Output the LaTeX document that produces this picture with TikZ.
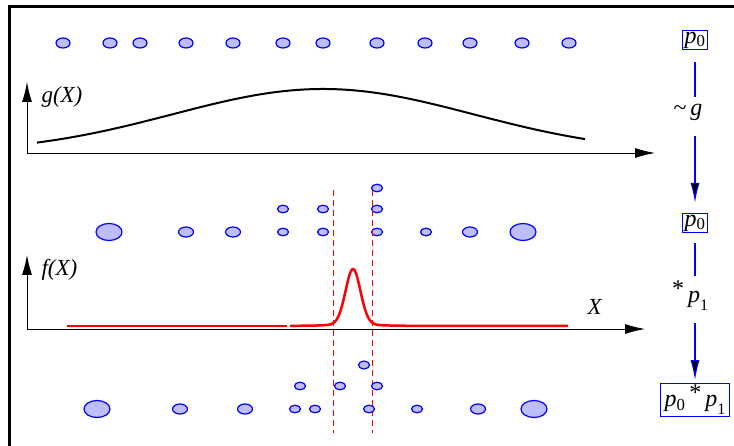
\documentclass[tikz,border=0pt]{standalone}
\usepackage{fontspec}
\setmainfont{Liberation Serif}
\usetikzlibrary{arrows.meta}
\definecolor{beadfill}{RGB}{190,190,255}
\tikzset{
  bead/.style={draw=blue,fill=beadfill,line width=1.2pt},
  sbead/.style={bead},
  mbead/.style={bead},
  bbead/.style={bead},
  axisarrow/.style={-{Latex[length=20pt,width=10pt]},line width=0.9pt},
  probbox/.style={draw=blue,line width=1pt,inner xsep=2pt,inner ysep=1.5pt,font=\fontsize{24}{26}\selectfont},
  oplabel/.style={inner sep=0pt,font=\fontsize{24}{26}\selectfont},
  flow/.style={draw=blue,line width=1.2pt},
  flowarrow/.style={flow,-{Latex[length=20pt,width=9pt,fill=black]}},
  cut/.style={red,line width=1pt,dash pattern=on 6pt off 4pt}
}
\begin{document}
\begin{tikzpicture}[x=1pt,y=-1pt,font=\fontsize{23}{26}\selectfont]
\useasboundingbox (0,0) rectangle (734,446);
\draw[line width=3pt] (9,446) -- (9,6.5) -- (734,6.5);

\foreach \x in {63,110,140,186,233,283,323,377,425,470,522,569}
  \filldraw[mbead] (\x,43) ellipse [x radius=7pt,y radius=5pt];

\draw[axisarrow] (27,153) -- (27,82);
\draw[axisarrow] (27,153) -- (655,153);
\node[anchor=west] (glabel) at (38,97) {\textit{g(X)}};
\draw[line width=2pt,domain=37:585,samples=90,smooth]
  plot (\x,{153-64*exp(-0.5*((\x-323)/150)^2)});

\foreach \x in {109,523}
  \filldraw[bbead] (\x,232) ellipse [x radius=13pt,y radius=8.5pt];
\foreach \x in {186,233,470}
  \filldraw[mbead] (\x,232) ellipse [x radius=7.5pt,y radius=5pt];
\foreach \x in {283,323,377,426}
  \filldraw[sbead] (\x,232) ellipse [x radius=5.5pt,y radius=3.8pt];
\foreach \x in {283,323,377}
  \filldraw[sbead] (\x,209) ellipse [x radius=5.5pt,y radius=3.8pt];
\filldraw[sbead] (377,188) ellipse [x radius=5.5pt,y radius=3.8pt];

\draw[axisarrow] (27,329) -- (27,255);
\draw[axisarrow] (27,329) -- (645,329);
\node[anchor=west] (flabel) at (38,270) {\textit{f(X)}};
\node (xlabel) at (595,307) {\textit{X}};
\draw[red,line width=2.5pt] (67,326) -- (287,326);
\draw[red,line width=2.5pt,domain=290:568,samples=300,smooth]
  plot (\x,{326-50*exp(-0.5*((\x-353)/7.5)^2)-7/(1+((\x-353)/10)^2)});
\draw[cut] (333,190) -- (333,433);
\draw[cut] (372,190) -- (372,433);

\foreach \x in {97,534}
  \filldraw[bbead] (\x,409) ellipse [x radius=13pt,y radius=8.5pt];
\foreach \x in {180,245,478}
  \filldraw[mbead] (\x,409) ellipse [x radius=7.5pt,y radius=5pt];
\foreach \x in {295,315,369,417}
  \filldraw[sbead] (\x,409) ellipse [x radius=5.5pt,y radius=3.8pt];
\foreach \x in {300,340,377}
  \filldraw[sbead] (\x,386) ellipse [x radius=5.5pt,y radius=3.8pt];
\filldraw[sbead] (364,365) ellipse [x radius=5.5pt,y radius=4pt];

\node[probbox] (pfirst) at (695,40) {\textit{p}\textsubscript{0}};
\node[oplabel] (sampleg) at (688,112) {\textasciitilde\,\textit{g}};
\node[probbox] (psecond) at (695,223) {\textit{p}\textsubscript{0}};
\node[oplabel] (convp) at (690,296) {\raisebox{6pt}{*}\,\textit{p}\raisebox{-8pt}{\fontsize{16}{17}\selectfont 1}};
\node[probbox,inner xsep=4pt] (pthird) at (695,400) {\textit{p}\textsubscript{0}\,\raisebox{6pt}{*}\,\textit{p}\raisebox{-8pt}{\fontsize{16}{17}\selectfont 1}};

\draw[flow,shorten <=12pt,shorten >=7pt] (pfirst.south) -- (pfirst.south |- sampleg.north);
\draw[flowarrow,shorten <=16pt,shorten >=10pt] (pfirst.south |- sampleg.south) -- (psecond.north);
\draw[flow,shorten <=10pt,shorten >=5pt] (psecond.south) -- (psecond.south |- convp.north);
\draw[flowarrow,shorten <=12pt,shorten >=3pt] (psecond.south |- convp.south) -- (pthird.north);
\end{tikzpicture}
\end{document}
